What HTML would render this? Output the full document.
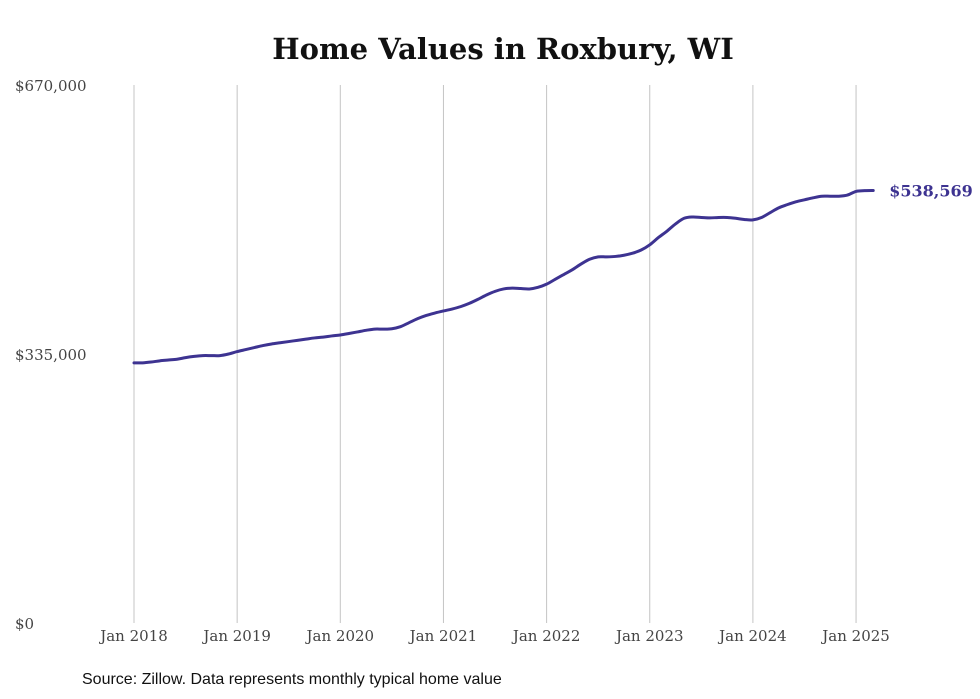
<!DOCTYPE html>
<html><head><meta charset="utf-8"><style>
html,body{margin:0;padding:0;background:#fff;}
svg{display:block;}
</style></head><body>
<svg id="chart" width="980" height="699" viewBox="0 0 980 699" xmlns="http://www.w3.org/2000/svg">
<rect width="980" height="699" fill="#fff"/>
<text x="503" y="59" text-anchor="middle" font-family="'DejaVu Serif','Liberation Serif',serif" font-weight="bold" font-size="29" fill="#111">Home Values in Roxbury, WI</text>
<g id="grid"></g><g id="yaxis"></g><g id="xaxis"></g><g id="series"></g>
<text x="82" y="684" font-family="'Liberation Sans',sans-serif" font-size="16" fill="#111">Source: Zillow. Data represents monthly typical home value</text>
</svg>
<script>
const xTickLabels = ["Jan 2018","Jan 2019","Jan 2020","Jan 2021","Jan 2022","Jan 2023","Jan 2024","Jan 2025"];
const yTickValues = [0, 335000, 670000];
const yTickLabels = ["$0","$335,000","$670,000"];
const endLabel = "$538,569";
// monthly values in thousands, Jan 2018 .. Mar 2025
const values = [
324,324,325,326.5,327.5,328.5,330.5,332,333,333,333,335,
338,340.5,343,345.5,347.5,349,350.5,352,353.5,355,356,357.5,
358.7,360.5,362.5,364.5,366,366,366.5,369,374,379,383,386,
388.6,391,394,398,403,408.5,413,416,417,416.5,416,418,
422,428,434,440,447,453,456,456,456.5,458,460.5,464.5,
471,480,488,497,504,505.6,505,504.5,505,505,504,502.5,
502,505,511,517,521,524.5,527,529.5,531.5,531.5,531.5,533,
537.5,538.4,538.569
];
const NS="http://www.w3.org/2000/svg";
const x0=134, yearW=103.15, yTop=85, yBot=623, yMax=670000;
const xm = m => x0 + m*yearW/12;
const yv = v => yBot - v/yMax*(yBot-yTop);
function mk(tag, attrs, parent){const e=document.createElementNS(NS,tag);for(const k in attrs)e.setAttribute(k,attrs[k]);parent.appendChild(e);return e;}
const grid=document.getElementById('grid'), xa=document.getElementById('xaxis'), ya=document.getElementById('yaxis'), ser=document.getElementById('series');
xTickLabels.forEach((lab,i)=>{
  const x=xm(i*12);
  const l=mk('line',{x1:x,x2:x,y1:yTop,y2:yBot,stroke:'#c4c4c4','stroke-width':1},grid);
  
  
  const t=mk('text',{x:x,y:641,'text-anchor':'middle','font-family':"'DejaVu Serif','Liberation Serif',serif",'font-size':15,fill:'#444'},xa);
  t.textContent=lab;
  
  
});
yTickValues.forEach((v,i)=>{
  const t=mk('text',{x:15,y:yv(v)+6,'font-family':"'DejaVu Serif','Liberation Serif',serif",'font-size':15,fill:'#444'},ya);
  t.textContent=yTickLabels[i];
  
  
});
const pts=values.map((v,i)=>[xm(i),yv(v*1000)]);
let d='M'+pts[0][0]+','+pts[0][1];
for(let i=0;i<pts.length-1;i++){
  const p0=pts[Math.max(0,i-1)],p1=pts[i],p2=pts[i+1],p3=pts[Math.min(pts.length-1,i+2)];
  const c1=[p1[0]+(p2[0]-p0[0])/6,p1[1]+(p2[1]-p0[1])/6];
  const c2=[p2[0]-(p3[0]-p1[0])/6,p2[1]-(p3[1]-p1[1])/6];
  d+=' C'+c1[0]+','+c1[1]+' '+c2[0]+','+c2[1]+' '+p2[0]+','+p2[1];
}
const path=mk('path',{d:d,fill:'none',stroke:'#3d3391','stroke-width':3,'stroke-linejoin':'round','stroke-linecap':'round'},ser);


const last=pts[pts.length-1];
const el=mk('text',{x:last[0]+16,y:last[1]+6,'font-family':"'DejaVu Serif','Liberation Serif',serif",'font-weight':'bold','font-size':16,fill:'#3d3391'},ser);
el.textContent=endLabel;


</script>
</body></html>
